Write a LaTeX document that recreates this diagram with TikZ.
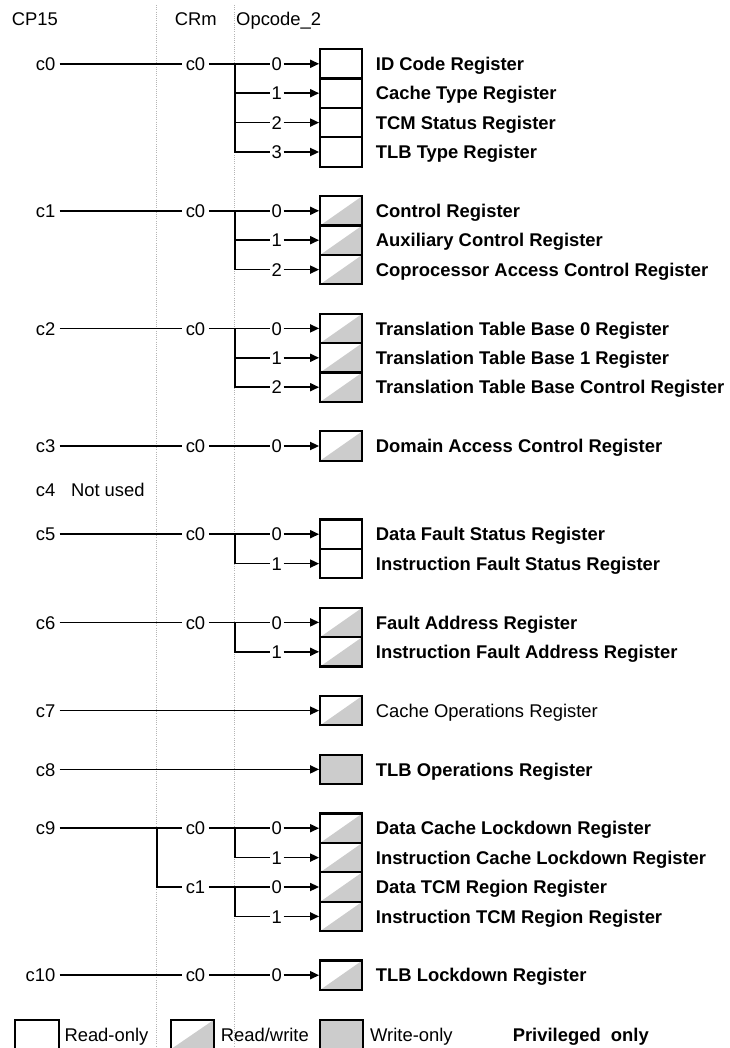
\documentclass[tikz,border=0pt]{standalone}
\usepackage{fontspec}
\setmainfont{Liberation Sans}
\usetikzlibrary{arrows.meta}
\definecolor{regfill}{RGB}{204,204,204}
\definecolor{guide}{RGB}{180,180,180}
\tikzset{
  txt/.style={font=\fontsize{18.4}{21}\selectfont, text height=13.2pt, text depth=0pt, inner ysep=0pt},
  head/.style={txt, anchor=west, inner xsep=0pt},
  cplab/.style={txt, anchor=east, inner xsep=4pt},
  crmlab/.style={txt, inner xsep=3.5pt},
  oplab/.style={txt, inner xsep=1.5pt},
  regname/.style={txt, anchor=west, inner xsep=0pt, font=\fontsize{18.4}{21}\selectfont\bfseries},
  plainname/.style={txt, anchor=west, inner xsep=0pt},
  regbox/.style={draw, line width=2.2pt, minimum width=42pt, minimum height=29.4pt, inner sep=0pt},
  ro/.style={regbox},
  rw/.style={regbox, path picture={\fill[regfill] (path picture bounding box.south west) -- (path picture bounding box.north east) -- (path picture bounding box.south east) -- cycle;}},
  wo/.style={regbox, fill=regfill},
  wire/.style={line width=1.7pt},
  arr/.style={wire, -{Triangle[length=9pt,width=8pt]}},
  guideline/.style={guide, line width=0.9pt, dash pattern=on 1pt off 1.2pt},
}
\begin{document}
\begin{tikzpicture}[x=1pt,y=-1pt]
\useasboundingbox (0,0) rectangle (729,1048);
% guide lines
\coordinate (g1t) at (156.7,5);
\coordinate (g1b) at (156.7,1048);
\coordinate (g2t) at (234.5,5);
\coordinate (g2b) at (234.5,1048);
\draw[guideline] (g1t) -- (g1b);
\draw[guideline] (g2t) -- (g2b);
\coordinate (bx) at (235,0);
\coordinate (bx9) at (156.7,0);
% headers
\node[head] (hcp) at (11.7,19.3) {CP15};
\node[txt, inner xsep=0pt] (hcrm) at (195.7,19.3) {CRm};
\node[head] (hop) at (236,19.3) {Opcode\_2};

% ---------- c0
\node[cplab] (cp0) at (59.5,63.8) {c0};
\node[crmlab] (crm0) at (195.5,63.8) {c0};
\node[oplab] (op0a) at (276.7,63.8) {0};
\node[oplab] (op0b) at (276.7,93.2) {1};
\node[oplab] (op0c) at (276.7,122.6) {2};
\node[oplab] (op0d) at (276.7,152.0) {3};
\node[ro] (r0a) at (341.2,63.8) {};
\node[ro] (r0b) at (341.2,93.2) {};
\node[ro] (r0c) at (341.2,122.6) {};
\node[ro] (r0d) at (341.2,152.0) {};
\node[regname] (n0a) at (375.7,63.8) {ID Code Register};
\node[regname] (n0b) at (375.7,93.2) {Cache Type Register};
\node[regname] (n0c) at (375.7,122.6) {TCM Status Register};
\node[regname] (n0d) at (375.7,152.0) {TLB Type Register};
\draw[wire] (cp0) -- (crm0);
\draw[wire] (crm0) -- (op0a);
\draw[wire] (crm0.east -| bx) |- (op0b);
\draw[wire] (crm0.east -| bx) |- (op0c);
\draw[wire] (crm0.east -| bx) |- (op0d);
\draw[arr] (op0a) -- (r0a);
\draw[arr] (op0b) -- (r0b);
\draw[arr] (op0c) -- (r0c);
\draw[arr] (op0d) -- (r0d);

% ---------- c1
\node[cplab] (cp1) at (59.5,210.8) {c1};
\node[crmlab] (crm1) at (195.5,210.8) {c0};
\node[oplab] (op1a) at (276.7,210.8) {0};
\node[oplab] (op1b) at (276.7,240.2) {1};
\node[oplab] (op1c) at (276.7,269.6) {2};
\node[rw] (r1a) at (341.2,210.8) {};
\node[rw] (r1b) at (341.2,240.2) {};
\node[rw] (r1c) at (341.2,269.6) {};
\node[regname] (n1a) at (375.7,210.8) {Control Register};
\node[regname] (n1b) at (375.7,240.2) {Auxiliary Control Register};
\node[regname] (n1c) at (375.7,269.6) {Coprocessor Access Control Register};
\draw[wire] (cp1) -- (crm1);
\draw[wire] (crm1) -- (op1a);
\draw[wire] (crm1.east -| bx) |- (op1b);
\draw[wire] (crm1.east -| bx) |- (op1c);
\draw[arr] (op1a) -- (r1a);
\draw[arr] (op1b) -- (r1b);
\draw[arr] (op1c) -- (r1c);

% ---------- c2
\node[cplab] (cp2) at (59.5,328.4) {c2};
\node[crmlab] (crm2) at (195.5,328.4) {c0};
\node[oplab] (op2a) at (276.7,328.4) {0};
\node[oplab] (op2b) at (276.7,357.8) {1};
\node[oplab] (op2c) at (276.7,387.2) {2};
\node[rw] (r2a) at (341.2,328.4) {};
\node[rw] (r2b) at (341.2,357.8) {};
\node[rw] (r2c) at (341.2,387.2) {};
\node[regname] (n2a) at (375.7,328.4) {Translation Table Base 0 Register};
\node[regname] (n2b) at (375.7,357.8) {Translation Table Base 1 Register};
\node[regname] (n2c) at (375.7,387.2) {Translation Table Base Control Register};
\draw[wire] (cp2) -- (crm2);
\draw[wire] (crm2) -- (op2a);
\draw[wire] (crm2.east -| bx) |- (op2b);
\draw[wire] (crm2.east -| bx) |- (op2c);
\draw[arr] (op2a) -- (r2a);
\draw[arr] (op2b) -- (r2b);
\draw[arr] (op2c) -- (r2c);

% ---------- c3
\node[cplab] (cp3) at (59.5,446.0) {c3};
\node[crmlab] (crm3) at (195.5,446.0) {c0};
\node[oplab] (op3a) at (276.7,446.0) {0};
\node[rw] (r3a) at (341.2,446.0) {};
\node[regname] (n3a) at (375.7,446.0) {Domain Access Control Register};
\draw[wire] (cp3) -- (crm3);
\draw[wire] (crm3) -- (op3a);
\draw[arr] (op3a) -- (r3a);

% ---------- c4
\node[cplab] (cp4) at (59.5,490.1) {c4};
\node[plainname] (nu4) at (70.8,490.1) {Not used};

% ---------- c5
\node[cplab] (cp5) at (59.5,534.2) {c5};
\node[crmlab] (crm5) at (195.5,534.2) {c0};
\node[oplab] (op5a) at (276.7,534.2) {0};
\node[oplab] (op5b) at (276.7,563.6) {1};
\node[ro] (r5a) at (341.2,534.2) {};
\node[ro] (r5b) at (341.2,563.6) {};
\node[regname] (n5a) at (375.7,534.2) {Data Fault Status Register};
\node[regname] (n5b) at (375.7,563.6) {Instruction Fault Status Register};
\draw[wire] (cp5) -- (crm5);
\draw[wire] (crm5) -- (op5a);
\draw[wire] (crm5.east -| bx) |- (op5b);
\draw[arr] (op5a) -- (r5a);
\draw[arr] (op5b) -- (r5b);

% ---------- c6
\node[cplab] (cp6) at (59.5,622.4) {c6};
\node[crmlab] (crm6) at (195.5,622.4) {c0};
\node[oplab] (op6a) at (276.7,622.4) {0};
\node[oplab] (op6b) at (276.7,651.8) {1};
\node[rw] (r6a) at (341.2,622.4) {};
\node[rw] (r6b) at (341.2,651.8) {};
\node[regname] (n6a) at (375.7,622.4) {Fault Address Register};
\node[regname] (n6b) at (375.7,651.8) {Instruction Fault Address Register};
\draw[wire] (cp6) -- (crm6);
\draw[wire] (crm6) -- (op6a);
\draw[wire] (crm6.east -| bx) |- (op6b);
\draw[arr] (op6a) -- (r6a);
\draw[arr] (op6b) -- (r6b);

% ---------- c7
\node[cplab] (cp7) at (59.5,710.6) {c7};
\node[rw] (r7) at (341.2,710.6) {};
\node[plainname] (n7) at (375.7,710.6) {Cache Operations Register};
\draw[arr] (cp7) -- (r7);

% ---------- c8
\node[cplab] (cp8) at (59.5,769.4) {c8};
\node[wo] (r8) at (341.2,769.4) {};
\node[regname] (n8) at (375.7,769.4) {TLB Operations Register};
\draw[arr] (cp8) -- (r8);

% ---------- c9
\node[cplab] (cp9) at (59.5,828.2) {c9};
\node[crmlab] (crm9a) at (195.5,828.2) {c0};
\node[crmlab] (crm9b) at (195.5,887.0) {c1};
\node[oplab] (op9a) at (276.7,828.2) {0};
\node[oplab] (op9b) at (276.7,857.6) {1};
\node[oplab] (op9c) at (276.7,887.0) {0};
\node[oplab] (op9d) at (276.7,916.4) {1};
\node[rw] (r9a) at (341.2,828.2) {};
\node[rw] (r9b) at (341.2,857.6) {};
\node[rw] (r9c) at (341.2,887.0) {};
\node[rw] (r9d) at (341.2,916.4) {};
\node[regname] (n9a) at (375.7,828.2) {Data Cache Lockdown Register};
\node[regname] (n9b) at (375.7,857.6) {Instruction Cache Lockdown Register};
\node[regname] (n9c) at (375.7,887.0) {Data TCM Region Register};
\node[regname] (n9d) at (375.7,916.4) {Instruction TCM Region Register};
\draw[wire] (cp9) -- (crm9a);
\draw[wire] (cp9.east -| bx9) |- (crm9b);
\draw[wire] (crm9a) -- (op9a);
\draw[wire] (crm9a.east -| bx) |- (op9b);
\draw[wire] (crm9b) -- (op9c);
\draw[wire] (crm9b.east -| bx) |- (op9d);
\draw[arr] (op9a) -- (r9a);
\draw[arr] (op9b) -- (r9b);
\draw[arr] (op9c) -- (r9c);
\draw[arr] (op9d) -- (r9d);

% ---------- c10
\node[cplab] (cp10) at (59.5,975.2) {c10};
\node[crmlab] (crm10) at (195.5,975.2) {c0};
\node[oplab] (op10a) at (276.7,975.2) {0};
\node[rw] (r10a) at (341.2,975.2) {};
\node[regname] (n10a) at (375.7,975.2) {TLB Lockdown Register};
\draw[wire] (cp10) -- (crm10);
\draw[wire] (crm10) -- (op10a);
\draw[arr] (op10a) -- (r10a);

% ---------- legend
\node[ro, minimum width=44pt] (lg1) at (37,1034.4) {};
\node[plainname] (lt1) at (64.3,1035) {Read-only};
\node[rw, minimum width=43pt] (lg2) at (192.5,1034.4) {};
\node[plainname] (lt2) at (220.7,1035) {Read/write};
\node[wo, minimum width=42.7pt] (lg3) at (341.7,1034.4) {};
\node[plainname] (lt3) at (370,1035) {Write-only};
\node[regname] (lt4) at (512.6,1035) {Privileged\ \ only};
\end{tikzpicture}
\end{document}
